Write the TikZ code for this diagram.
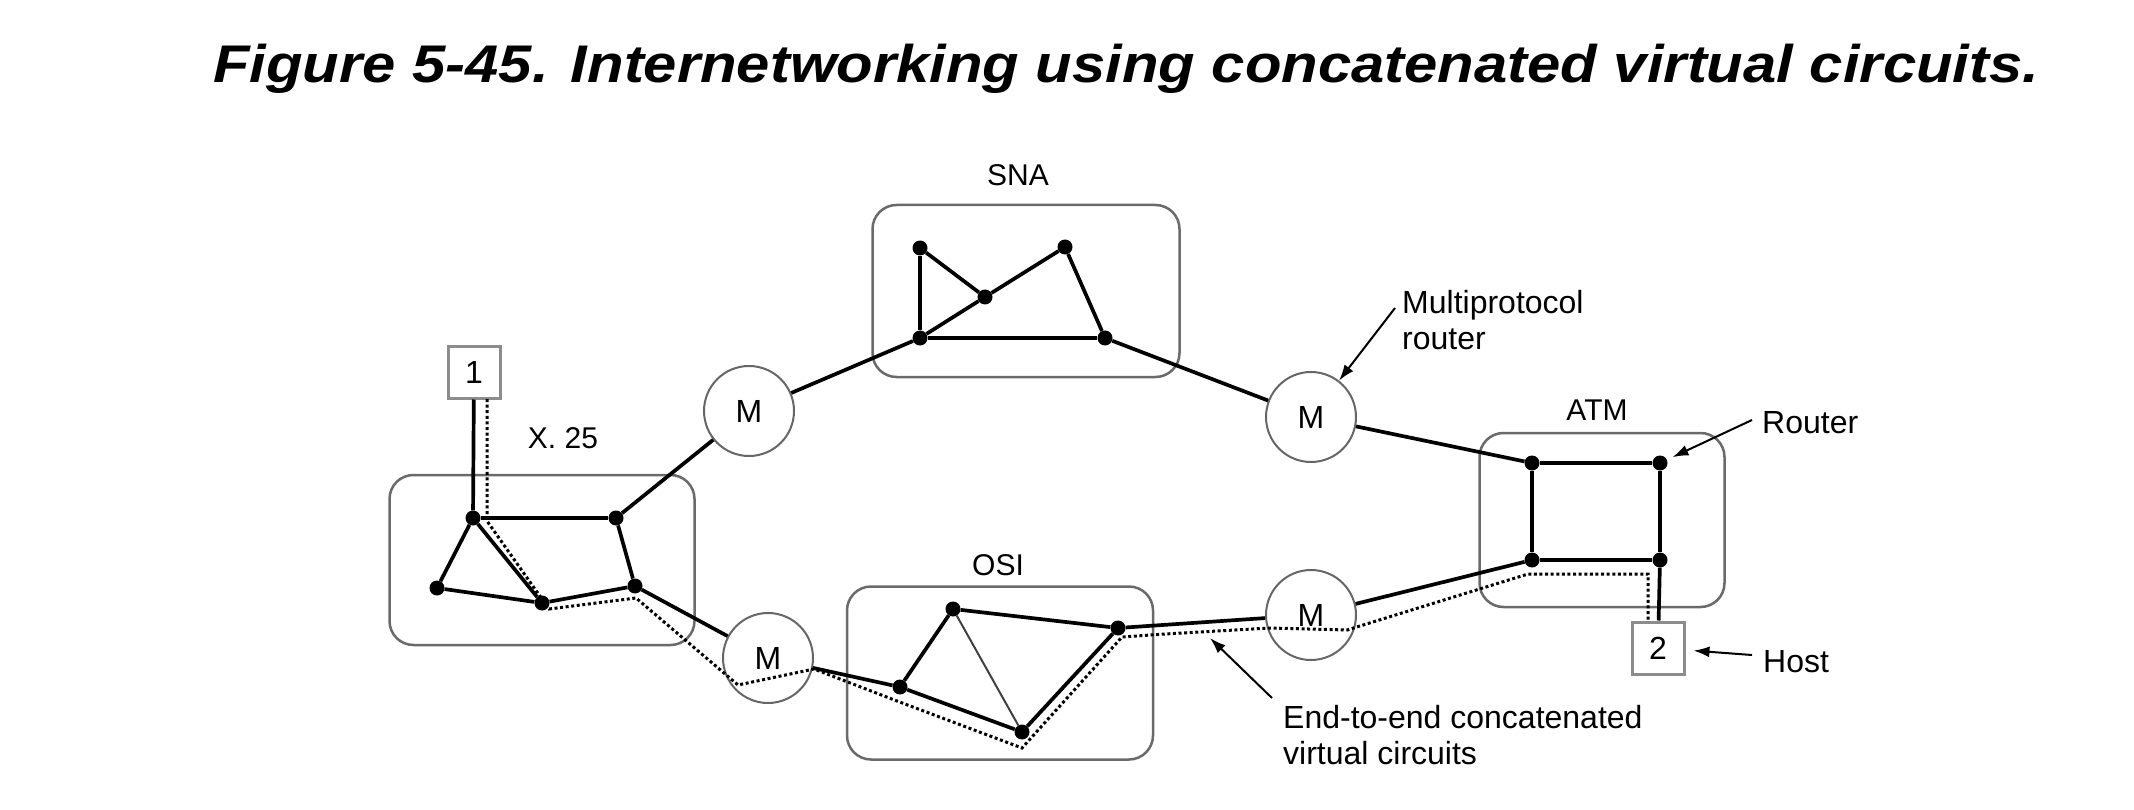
\documentclass[tikz,border=0pt]{standalone}
\usepackage{fontspec}
\setmainfont{Liberation Sans}
\usetikzlibrary{arrows.meta}
\definecolor{boxgray}{HTML}{6A6A6A}
\definecolor{circgray}{HTML}{666666}
\definecolor{hostgray}{HTML}{8C8C8C}
\begin{document}
\begin{tikzpicture}[x=1pt,y=-1pt,
  edge/.style={line width=3.7pt, black},
  thinedge/.style={line width=2pt, black!75},
  vc/.style={line width=3pt, dash pattern=on 3pt off 2.6pt},
  dot/.style={circle, fill=black, inner sep=0pt, minimum size=15pt},
  mux/.style={circle, draw=circgray, line width=2pt, fill=white, minimum size=90pt, inner sep=0pt, font=\fontsize{32}{36}\selectfont},
  netbox/.style={draw=boxgray, line width=2.5pt, rounded corners=24pt, inner sep=0pt},
  hostbox/.style={draw=hostgray, line width=3pt, minimum size=52pt, inner sep=0pt, fill=white, font=\fontsize{32}{36}\selectfont},
  netlabel/.style={font=\fontsize{30}{34}\selectfont, inner sep=0pt},
  note/.style={font=\fontsize{32}{36}\selectfont, inner sep=0pt, align=left, anchor=west},
  pointer/.style={line width=2pt, -{Latex[length=16pt,width=11pt]}}
]
\useasboundingbox (0,0) rectangle (2134,810);

% title
\node[anchor=base west, inner sep=0pt, font=\fontsize{53}{64}\selectfont\bfseries\itshape] (title) at (213,83)
  {\scalebox{1.128}[1]{Figure 5-45. Internetworking using concatenated virtual circuits.}};

% network clouds
\node[netbox, minimum width=305pt, minimum height=170pt] (X25) at (542,560) {};
\node[netbox, minimum width=307pt, minimum height=172pt] (SNA) at (1026,291) {};
\node[netbox, minimum width=306pt, minimum height=173pt] (OSI) at (1000,673) {};
\node[netbox, minimum width=245pt, minimum height=174pt] (ATM) at (1602,520) {};

% network labels
\node[netlabel] (lx25) at (563,438) {X. 25};
\node[netlabel] (lsna) at (1018,175) {SNA};
\node[netlabel] (losi) at (998,565) {OSI};
\node[netlabel] (latm) at (1597,410) {ATM};

% routers (dots)
\node[dot] (A) at (473,518) {};
\node[dot] (B) at (616,518) {};
\node[dot] (C) at (437,588) {};
\node[dot] (D) at (542,603) {};
\node[dot] (E) at (635,586) {};

\node[dot] (S1) at (920,248) {};
\node[dot] (S2) at (985,297) {};
\node[dot] (S3) at (1065,247) {};
\node[dot] (S4) at (920,338) {};
\node[dot] (S5) at (1105,338) {};

\node[dot] (O1) at (900,687) {};
\node[dot] (O2) at (953,609) {};
\node[dot] (O3) at (1022,732) {};
\node[dot] (O4) at (1118,628) {};

\node[dot] (T1) at (1532,463) {};
\node[dot] (T2) at (1660,463) {};
\node[dot] (T3) at (1532,560) {};
\node[dot] (T4) at (1660,560) {};

% multiprotocol routers
\node[mux] (M1) at (749,411) {M};
\node[mux] (M2) at (768,658) {M};
\node[mux] (M3) at (1311,417) {M};
\node[mux] (M4) at (1311,615) {M};

% hosts
\node[hostbox] (H1) at (474,372) {1};
\node[hostbox] (H2) at (1658,648) {2};

% solid links
\draw[edge] (H1) -- (A);
\draw[edge] (A) -- (B);
\draw[edge] (A) -- (C);
\draw[edge] (A) -- (D);
\draw[edge] (C) -- (D);
\draw[edge] (D) -- (E);
\draw[edge] (B) -- (E);
\draw[edge] (B) -- (M1);
\draw[edge] (E) -- (M2);

\draw[edge] (M1) -- (S4);
\draw[edge] (S4) -- (S1);
\draw[edge] (S1) -- (S2);
\draw[edge] (S4) -- (S2);
\draw[edge] (S2) -- (S3);
\draw[edge] (S3) -- (S5);
\draw[edge] (S4) -- (S5);
\draw[edge] (S5) -- (M3);

\draw[edge] (M2) -- (O1);
\draw[edge] (O1) -- (O2);
\draw[edge] (O2) -- (O4);
\draw[thinedge] (O2) -- (O3);
\draw[edge] (O1) -- (O3);
\draw[edge] (O3) -- (O4);
\draw[edge] (O4) -- (M4);

\draw[edge] (M3) -- (T1);
\draw[edge] (M4) -- (T3);
\draw[edge] (T1) -- (T2);
\draw[edge] (T1) -- (T3);
\draw[edge] (T3) -- (T4);
\draw[edge] (T2) -- (T4);
\draw[edge] (T4) -- (H2);

% end-to-end virtual circuit
\coordinate (v0) at (487,399);
\coordinate (v1) at (487,521);
\coordinate (v2) at (549,609);
\coordinate (v3) at (636,598);
\coordinate (v4) at (738,685);
\coordinate (v5) at (814,669);
\coordinate (v6) at (897,701);
\coordinate (v7) at (1022,748);
\coordinate (v8) at (1122,637);
\coordinate (v9) at (1165,634);
\coordinate (v10) at (1270,628);
\coordinate (v11) at (1347,630);
\coordinate (v12) at (1528,574);
\coordinate (v13) at (1648,574);
\coordinate (v14) at (1648,622);
\draw[vc] (v0) -- (v1) -- (v2) -- (v3) -- (v4) -- (v5) -- (v6) -- (v7) -- (v8) -- (v9) -- (v10) -- (v11) -- (v12) -- (v13) -- (v14);

% annotations
\node[note] (lmpr) at (1402,320) {Multiprotocol\\router};
\coordinate (mprtail) at (1395,308);
\draw[pointer] (mprtail) -- (M3);

\node[note] (lrouter) at (1762,423) {Router};
\coordinate (routertail) at (1752,420);
\draw[pointer, shorten >=6pt] (routertail) -- (T2);

\node[note] (lhost) at (1763,662) {Host};
\coordinate (hosttail) at (1752,655);
\draw[pointer, shorten >=8pt] (hosttail) -- (H2);

\node[note] (lvc) at (1283,735) {End-to-end concatenated\\virtual circuits};
\coordinate (vctail) at (1272,698);
\coordinate (vctip) at (1210,638);
\draw[pointer] (vctail) -- (vctip);
\end{tikzpicture}
\end{document}
